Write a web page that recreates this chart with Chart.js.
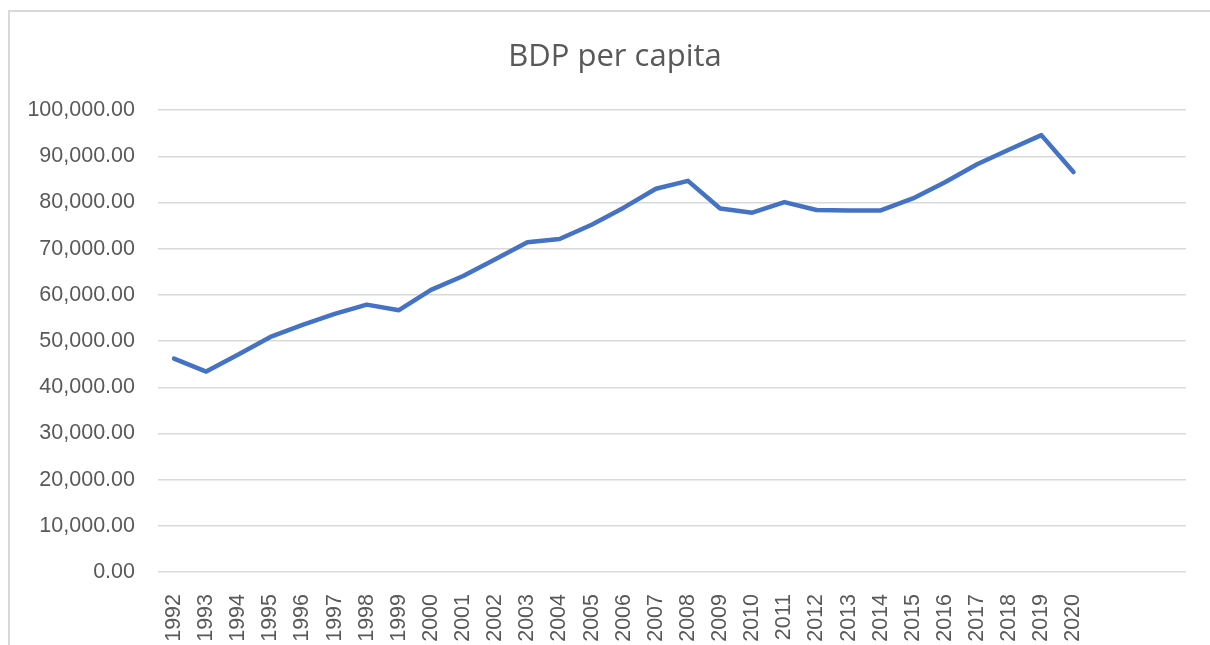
<!DOCTYPE html>
<html>
<head>
<meta charset="utf-8">
<script src="https://cdn.jsdelivr.net/npm/chart.js@4"></script>
<style>
  html, body { margin: 0; padding: 0; background: #fff; }
  #wrap { position: relative; width: 1210px; height: 645px; overflow: hidden; }
  #frame { position: absolute; left: 8px; top: 10px; width: 1300px; height: 700px; border: 2px solid #d9d9d9; box-sizing: border-box; }
  #chart { position: absolute; left: 0; top: 0; }
</style>
</head>
<body>
<div id="wrap">
  <div id="frame"></div>
  <canvas id="chart" width="1210" height="645"></canvas>
</div>
<script>
// kategori tahun (3 slot kosong di ujung seperti di Excel)
const years = ['1992', '1993', '1994', '1995', '1996', '1997', '1998', '1999', '2000', '2001',
  '2002', '2003', '2004', '2005', '2006', '2007', '2008', '2009', '2010', '2011',
  '2012', '2013', '2014', '2015', '2016', '2017', '2018', '2019', '2020', '', '', ''];

// BDP per capita
const bdpPerCapita = [46200, 43400, 47100, 50900, 53500, 55900, 57900, 56700, 61100, 64100,
  67700, 71400, 72100, 75200, 78900, 83000, 84700, 78700, 77800, 80100,
  78400, 78300, 78300, 80900, 84400, 88300, 91500, 94600, 86600];

const yTicks = [0, 10000, 20000, 30000, 40000, 50000, 60000, 70000, 80000, 90000, 100000];

const textColor = '#595959';
const gridColor = '#d9d9d9';

// geser judul ke tengah bingkai (bukan tengah area padding)
const geserJudul = {
  id: 'geserJudul',
  afterLayout(chart) {
    if (chart.titleBlock) { chart.titleBlock.left = 44; chart.titleBlock.right = 1186; }
  }
};

const ctx = document.getElementById('chart').getContext('2d');
new Chart(ctx, {
  type: 'line',
  data: {
    labels: years,
    datasets: [{
      label: 'BDP per capita',
      data: bdpPerCapita,
      borderColor: '#4472C4',
      backgroundColor: '#4472C4',
      borderWidth: 4.5,
      pointRadius: 0,
      pointHoverRadius: 0,
      tension: 0,
      borderCapStyle: 'round',
      borderJoinStyle: 'round',
      fill: false
    }]
  },
  plugins: [geserJudul],
  options: {
    responsive: false,
    animation: false,
    layout: { padding: { left: 27, right: 24, top: 10, bottom: 0 } },
    plugins: {
      legend: { display: false },
      tooltip: { enabled: false },
      title: {
        display: true,
        text: 'BDP per capita',
        color: textColor,
        font: { family: '"Open Sans", sans-serif', size: 31, weight: 'normal' },
        padding: { top: 29, bottom: 34 }
      }
    },
    scales: {
      x: {
        offset: true,
        grid: { display: false },
        border: { display: false },
        afterFit: s => { s.height = 73; },
        ticks: {
          autoSkip: false,
          minRotation: 90,
          maxRotation: 90,
          padding: 14,
          color: textColor,
          font: { family: '"Liberation Sans", Arial, sans-serif', size: 21.5 }
        }
      },
      y: {
        min: 0,
        max: 100000,
        afterFit: s => { s.width = 131; },
        afterBuildTicks: s => { s.ticks = yTicks.map(v => ({ value: v })); },
        grid: { color: gridColor, lineWidth: 1.5, drawTicks: false },
        border: { display: false },
        ticks: {
          padding: 23,
          color: textColor,
          font: { family: '"Liberation Sans", Arial, sans-serif', size: 21.5 },
          callback: v => v.toLocaleString('en-US', { minimumFractionDigits: 2, maximumFractionDigits: 2 })
        }
      }
    }
  }
});
</script>
</body>
</html>
